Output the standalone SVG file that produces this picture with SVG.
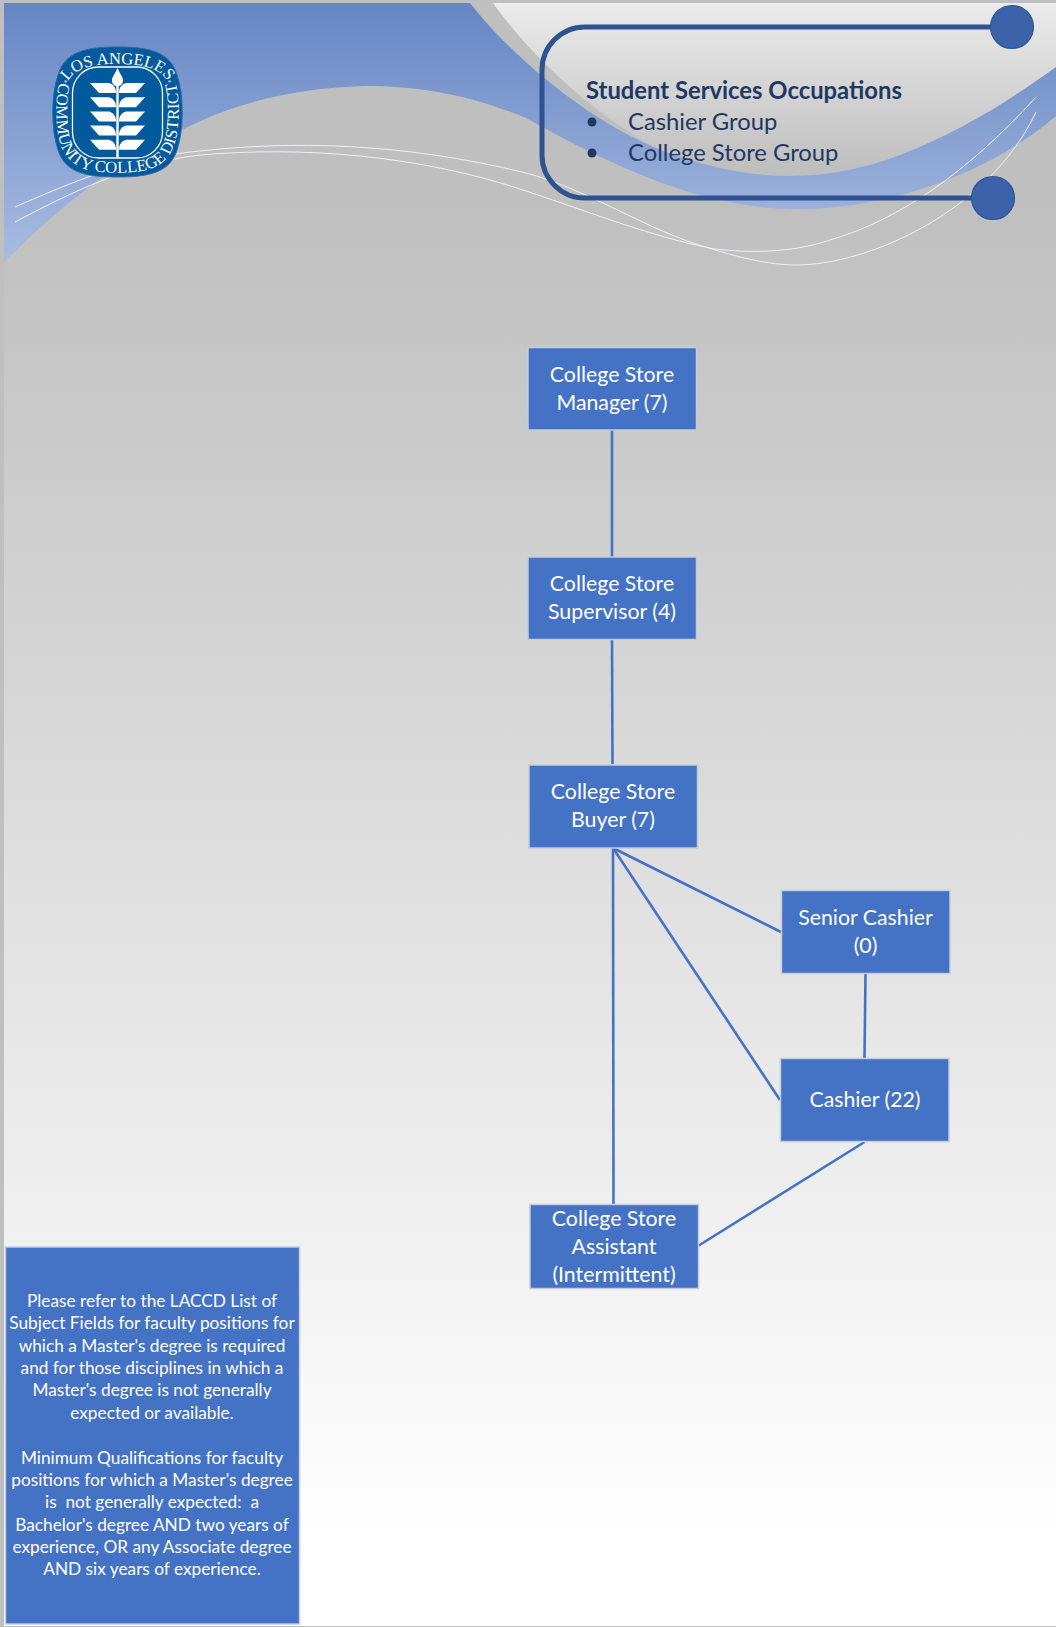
<svg xmlns="http://www.w3.org/2000/svg" width="1056" height="1627" viewBox="0 0 1056 1627">
<style>
.t{font-family:"Lato","Carlito","Liberation Sans",sans-serif;}
.n{fill:#4472c4;stroke:#c3cbdc;stroke-width:1.5;}
.nt{fill:#fff;font-size:21.3px;text-anchor:middle;}
.c{stroke:#4472c4;stroke-width:2.6;fill:none;}
.w{stroke:#eef0f4;stroke-width:1;fill:none;}
.lb{fill:#fff;font-size:17.25px;text-anchor:middle;}
.h{fill:#1f3864;font-size:23.8px;}
.logo{fill:#fff;font-family:"Liberation Serif",serif;font-size:16.6px;text-anchor:middle;}
.leaf{fill:#fff;}
</style>
<defs>
<linearGradient id="bg" gradientUnits="userSpaceOnUse" x1="0" y1="200" x2="0" y2="1540"><stop offset="0" stop-color="#bfbfbf"/><stop offset="1" stop-color="#ffffff"/></linearGradient>
<linearGradient id="blue" gradientUnits="userSpaceOnUse" x1="0" y1="3" x2="0" y2="265"><stop offset="0" stop-color="#6585c3"/><stop offset="1" stop-color="#aabde2"/></linearGradient>
<linearGradient id="patch" gradientUnits="userSpaceOnUse" x1="0" y1="3" x2="0" y2="170"><stop offset="0" stop-color="#ebebeb"/><stop offset="1" stop-color="#bfbfbf"/></linearGradient>
<path id="arcTop" d="M66 86 C71 69 90 64 117.5 64 C145 64 164 69 169 86"/>
<path id="arcRing" d="M66 64 C57 85 55 100 57 125 C59 150 68 163 85 169 C100 174 135 174 150 169 C167 163 176 150 178 125 C180 100 178 85 169 64"/>
<g id="leafRow"><path class="leaf" d="M90 83 L109 83 C113 84 116 87 116 93 L99 93 Z"/><path class="leaf" d="M145 83 L126 83 C122 84 119 87 119 93 L136 93 Z"/></g>
</defs>
<rect id="background" x="0" y="0" width="1056" height="1627" fill="#bfbfbf"/>
<rect x="4" y="3" width="1052" height="1623" fill="url(#bg)"/>
<path id="patch-shape" d="M493 3 C530 55 600 125 690 165 L793 190 L950 150 L1056 100 L1056 3 Z" fill="url(#patch)"/>
<path id="swoosh" d="M4 3 L470 3 C510 55 600 135 690 160 C760 182 830 182 900 155 C960 132 1010 100 1056 67 L1056 116 C1000 165 900 210 793 209 C700 208 610 165 526 118 C470 95 420 86 365 86 C290 88 230 105 182 130 C110 165 50 215 4 263 Z" fill="url(#blue)"/>
<g id="thin-curves">
<path class="w" d="M15 207 C70 183 130 157 200 151 C290 141 400 142 526 173 C590 190 650 232 709 248 C740 253 790 254 830 240 C900 220 970 170 1036 97"/>
<path class="w" d="M15 222 C70 193 130 163 200 155 C300 146 420 155 526 191 C590 212 650 236 709 248 C740 258 770 265 796 265 C870 265 990 210 1036 112"/>
</g>
<g id="logo">
<path d="M117.5 47 C150 47 170 52 177 75 C184 95 184 130 177 150 C170 172 150 177 117.5 177 C85 177 65 172 58 150 C51 130 51 95 58 75 C65 52 85 47 117.5 47 Z" fill="#005a9c" stroke="#2c6aa8" stroke-width="1"/>
<rect x="72.5" y="67" width="90" height="91" rx="26" fill="#005a9c" stroke="#fff" stroke-width="1.3"/>
<text class="logo"><textPath href="#arcTop" startOffset="50%">LOS ANGELES</textPath></text>
<text class="logo"><textPath href="#arcRing" startOffset="50%">·COMMUNITY COLLEGE DISTRICT·</textPath></text>
<path class="leaf" d="M117.5 68 C115 74 112 77 112 80 C112 84 114 86 117.5 86 C121 86 123 84 123 80 C123 77 120 74 117.5 68 Z"/>
<rect class="leaf" x="116.3" y="84" width="2.4" height="74"/>
<use href="#leafRow"/><use href="#leafRow" y="14.2"/><use href="#leafRow" y="28.4"/><use href="#leafRow" y="42.6"/><use href="#leafRow" y="56.8"/>
</g>
<g id="title-frame">
<path d="M1012 27 L585 27 A43 43 0 0 0 542 70 L542 155 A43 43 0 0 0 585 198 L993 198" fill="none" stroke="#2f5291" stroke-width="5"/>
<circle cx="1012" cy="27" r="21.5" fill="#3c62aa" stroke="#2f5597" stroke-width="1.2"/>
<circle cx="993" cy="198" r="21.5" fill="#3c62aa" stroke="#2f5597" stroke-width="1.2"/>
<text class="t h" x="586" y="99" font-weight="700">Student Services Occupations</text>
<circle cx="592" cy="122" r="4.5" fill="#1f3864"/>
<text class="t h" x="628" y="130">Cashier Group</text>
<circle cx="592" cy="153" r="4.5" fill="#1f3864"/>
<text class="t h" x="628" y="161">College Store Group</text>
</g>
<g id="connectors">
<path class="c" d="M612 430 L612 557"/>
<path class="c" d="M612 639 L612.5 764"/>
<path class="c" d="M613 848 L613.5 1204"/>
<path class="c" d="M613 848 L781 932"/>
<path class="c" d="M613 848 L780 1100"/>
<path class="c" d="M865.5 973 L864.5 1058"/>
<path class="c" d="M864.5 1142 L698 1246"/>
</g>
<g id="n-manager"><rect class="n" x="528" y="347.5" width="168.5" height="82.5"/><text class="t nt" x="612" y="382">College Store</text><text class="t nt" x="612" y="410">Manager (7)</text></g>
<g id="n-supervisor"><rect class="n" x="528" y="557" width="168.5" height="82.5"/><text class="t nt" x="612" y="591">College Store</text><text class="t nt" x="612" y="619">Supervisor (4)</text></g>
<g id="n-buyer"><rect class="n" x="529" y="765" width="168.5" height="83"/><text class="t nt" x="613" y="799">College Store</text><text class="t nt" x="613" y="827">Buyer (7)</text></g>
<g id="n-senior"><rect class="n" x="781.5" y="890.5" width="168.5" height="83"/><text class="t nt" x="865.5" y="925">Senior Cashier</text><text class="t nt" x="865.5" y="953">(0)</text></g>
<g id="n-cashier"><rect class="n" x="780.5" y="1058.5" width="168.5" height="83"/><text class="t nt" x="865" y="1107">Cashier (22)</text></g>
<g id="n-assistant"><rect class="n" x="530" y="1204.5" width="168.5" height="84"/><text class="t nt" x="614" y="1226">College Store</text><text class="t nt" x="614" y="1254">Assistant</text><text class="t nt" x="614" y="1282">(Intermittent)</text></g>
<g id="n-note"><rect class="n" x="5.5" y="1247" width="294" height="377"/>
<text class="t lb" x="152" y="1307">Please refer to the LACCD List of</text>
<text class="t lb" x="152" y="1329">Subject Fields for faculty positions for</text>
<text class="t lb" x="152" y="1352">which a Master's degree is required</text>
<text class="t lb" x="152" y="1374">and for those disciplines in which a</text>
<text class="t lb" x="152" y="1396">Master's degree is not generally</text>
<text class="t lb" x="152" y="1419">expected or available.</text>
<text class="t lb" x="152" y="1464">Minimum Qualifications for faculty</text>
<text class="t lb" x="152" y="1486">positions for which a Master's degree</text>
<text class="t lb" x="152" y="1508" xml:space="preserve">is  not generally expected:  a</text>
<text class="t lb" x="152" y="1531">Bachelor's degree AND two years of</text>
<text class="t lb" x="152" y="1553">experience, OR any Associate degree</text>
<text class="t lb" x="152" y="1575">AND six years of experience.</text>
</g>
</svg>
